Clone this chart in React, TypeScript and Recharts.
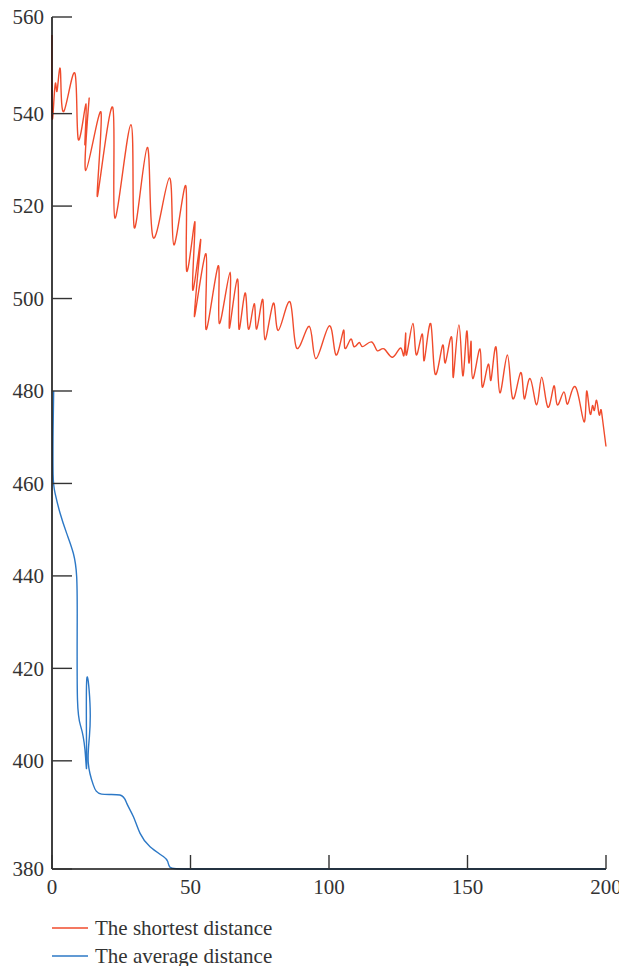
import React from 'react';
import { LineChart, Line, XAxis, YAxis, Legend } from 'recharts';

const X_TICKS = [0, 50, 100, 150, 200];
const Y_TICKS = [376.6, 400, 420, 440, 460, 480, 500, 520, 540, 560.9];
const Y_DOMAIN = [376.6, 560.9];
const SERIES_NAMES = ['The shortest distance', 'The average distance'];
const COLORS = ['#F04B2C', '#2C78C6'];

const shortestX = [
  0, 0.05, 0.7, 1.3, 1.7, 2.3, 3.1, 4.3, 8.3, 9.5,
  12.3, 11.9, 13.4, 12.2, 17.7, 16.4, 21.9, 22.7, 28.5, 29.7,
  34.4, 36.5, 42.4, 44, 48.3, 48.6, 51.6, 50.8, 53.7, 51.4,
  55.6, 55.6, 60, 60.4, 64.3, 64, 66.9, 67.5, 69.7, 70.9,
  73, 73.9, 76.1, 76.9, 79.9, 81.7, 85.9, 88.3, 92.9, 95.3,
  100.1, 102.5, 105.2, 105.7, 107.8, 109, 110.9, 112.2, 115.4, 117.4,
  119.9, 123, 125.9, 127.1, 127.7, 128, 130.3, 131.5, 133.7, 134.4,
  136.7, 138.3, 141, 142, 144.3, 144.9, 146.9, 148.3, 149.7, 150.5,
  151.3, 151.9, 154.5, 155.3, 157.5, 158.5, 160.3, 161.7, 164.4, 166.3,
  169.2, 170.5, 172.6, 175, 176.8, 179, 181.2, 182.4, 184.8, 186.2,
  189.1, 192.1, 193, 194.2, 195.1, 195.8, 196.6, 197.5, 198.1, 198.7,
  200,
];
const shortestY = [
  557, 539.5, 543, 546.6, 544.8, 547.4, 548.8, 540.5, 548.7, 534.4,
  542.1, 533.3, 543.2, 527.7, 540.3, 522.1, 541.4, 517.4, 537.6, 515.3,
  532.7, 513.2, 526.1, 511.6, 524.4, 506, 516.6, 501.8, 512.7, 496.1,
  509.7, 493.3, 507.1, 494.6, 505.7, 493.6, 504.2, 493.4, 501.2, 493.4,
  498.9, 493.4, 499.8, 491.1, 499, 493.1, 499.3, 489.3, 494, 487,
  494.1, 487.8, 493.1, 489.3, 491.2, 489.6, 490.5, 489.6, 490.6, 488.7,
  489.1, 487.3, 489.3, 487.8, 492.5, 487.8, 494.6, 487.8, 492.3, 486.6,
  494.6, 483.7, 489.9, 486.1, 491.6, 483, 494.3, 483.3, 492.9, 486.1,
  490.7, 482.7, 489.1, 480.9, 485.8, 482.4, 489.5, 479.6, 487.8, 478.4,
  484, 478.3, 482.7, 477, 483, 476.5, 481.1, 477, 479.8, 477.2,
  480.8, 473.3, 479.9, 475.2, 476.8, 475.8, 478, 474.9, 475.9, 474.1,
  468,
];

const averageX = [
  0.6, 0.4, 0.4, 1.1, 2.9, 5.3, 7.7, 8.9, 9.1, 9.2,
  10.4, 11.9, 12.5, 12.5, 13.7, 13.5, 13.1, 14.9, 17.9, 24.5,
  27, 29.4, 31.8, 35.4, 40.2, 41.8, 42.6, 50, 75, 100,
  150, 200,
];
const averageY = [
  480, 471.6, 462, 457.9, 453.6, 449.2, 444.9, 439.9, 430, 413.2,
  407.4, 402.4, 399.8, 417.1, 412.5, 405.2, 399.5, 394.8, 392.8, 392.6,
  390.8, 387.9, 384.3, 381.4, 379.3, 378.2, 377, 376.6, 376.6, 376.6,
  376.6, 376.6,
];

const shortestData = shortestX.map((x, i) => ({ x, y: shortestY[i] }));
const averageData = averageX.map((x, i) => ({ x, y: averageY[i] }));

const FONT = '"Liberation Serif", "Times New Roman", serif';
const FONT_SIZE = 21;
const AXIS_COLOR = '#111';
const TEXT_COLOR = '#333';

const YTick = (props: any) => {
  const { x, y, payload } = props;
  return (
    <g>
      <line x1={x + 8} x2={x + 28} y1={y} y2={y} stroke="#333" strokeWidth={1.4} />
      <text x={x} y={y} dy="0.35em" textAnchor="end" fill={TEXT_COLOR} fontSize={FONT_SIZE} fontFamily={FONT}>
        {Math.round(payload.value / 20) * 20}
      </text>
    </g>
  );
};

const XTick = (props: any) => {
  const { x, y, payload } = props;
  return (
    <g>
      <line x1={x} x2={x} y1={y} y2={y - 14} stroke="#333" strokeWidth={1.4} />
      <text x={x} y={y + 18} dy="0.35em" textAnchor="middle" fill={TEXT_COLOR} fontSize={FONT_SIZE} fontFamily={FONT}>
        {payload.value}
      </text>
    </g>
  );
};

const LegendContent = () => (
  <div style={{ height: 64, boxSizing: 'border-box', paddingTop: 12, paddingLeft: 52, fontFamily: FONT, fontSize: FONT_SIZE, color: TEXT_COLOR }}>
    {SERIES_NAMES.map((name, i) => (
      <div key={name} style={{ display: 'flex', alignItems: 'center', height: 28, whiteSpace: 'nowrap' }}>
        <svg width={36} height={4} style={{ display: 'block' }}>
          <line x1={0} x2={36} y1={2} y2={2} stroke={COLORS[i]} strokeWidth={1.4} />
        </svg>
        <span style={{ marginLeft: 7 }}>{name}</span>
      </div>
    ))}
  </div>
);

export default function App() {
  return (
    <div style={{ position: 'absolute', left: 0, top: 0, width: 619, height: 966, background: '#fff' }}>
      <LineChart width={619} height={966} margin={{ top: 17, right: 13, bottom: 0, left: 0 }}>
        <XAxis
          dataKey="x"
          type="number"
          domain={[0, 200]}
          ticks={X_TICKS}
          interval={0}
          height={33}
          tickSize={0}
          tickMargin={0}
          tickLine={false}
          tick={<XTick />}
          axisLine={{ stroke: AXIS_COLOR, strokeWidth: 1.6 }}
          allowDuplicatedCategory={false}
        />
        <XAxis
          xAxisId="top"
          orientation="top"
          type="number"
          domain={[0, 200]}
          height={0}
          tick={false}
          tickLine={false}
          axisLine={{ stroke: AXIS_COLOR, strokeWidth: 1.6 }}
        />
        <YAxis
          type="number"
          domain={Y_DOMAIN}
          ticks={Y_TICKS}
          interval={0}
          width={52}
          tickSize={0}
          tickMargin={8}
          tickLine={false}
          tick={<YTick />}
          axisLine={{ stroke: AXIS_COLOR, strokeWidth: 1.6 }}
        />
        <YAxis
          yAxisId="right"
          orientation="right"
          type="number"
          domain={Y_DOMAIN}
          width={0}
          tick={false}
          tickLine={false}
          axisLine={{ stroke: AXIS_COLOR, strokeWidth: 1.6 }}
        />
        <Legend verticalAlign="bottom" align="left" content={<LegendContent />} />
        <Line
          data={shortestData}
          dataKey="y"
          name={SERIES_NAMES[0]}
          type="natural"
          stroke={COLORS[0]}
          strokeWidth={1.4}
          dot={false}
          isAnimationActive={false}
        />
        <Line
          data={averageData}
          dataKey="y"
          name={SERIES_NAMES[1]}
          type="natural"
          stroke={COLORS[1]}
          strokeWidth={1.4}
          dot={false}
          isAnimationActive={false}
        />
      </LineChart>
    </div>
  );
}
